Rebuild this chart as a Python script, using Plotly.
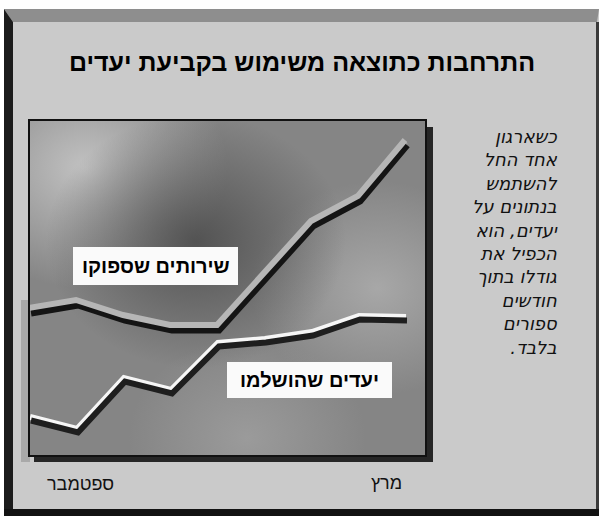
import urllib.parse
import plotly.graph_objects as go

W, H = 599, 516

# ---------------- data ----------------
x_idx = [0, 1, 2, 3, 4, 5, 6, 7, 8]
services = [145, 153, 138, 128, 128, 179, 232, 257, 313]
goals = [38, 26, 77, 65, 112, 116, 123, 139, 138]
title = "התרחבות כתוצאה משימוש בקביעת יעדים"
label_services = "שירותים שספוקו"
label_goals = "יעדים שהושלמו"
tick_labels = ["ספטמבר", "מרץ"]
side_lines = ["כשארגון", "אחד החל", "להשתמש", "בנתונים על", "יעדים, הוא",
              "הכפיל את", "גודלו בתוך", "חודשים", "ספורים", "בלבד.\u200f"]

# ---------------- layout helpers ----------------
def px(x):
    return x / W

def py(y):
    return 1 - y / H

PL, PR, PT, PB = 30, 425, 121, 455      # plot area in pixels
STEP = 47                                 # pixels per x index
XR = [0, (PR - PL) / STEP]
YR = [0, PB - PT]

def xr_shift(d):
    return [XR[0] - d / STEP, XR[1] - d / STEP]

def yr_shift(d):
    return [YR[0] + d, YR[1] + d]

FONT = "Liberation Sans, Arial, DejaVu Sans, sans-serif"
IFONT = "DejaVu Sans, sans-serif"

fig = go.Figure()

# services line: dark bottom edge, light top edge, gray body
fig.add_trace(go.Scatter(x=x_idx, y=services, mode="lines", xaxis="x2", yaxis="y2",
                         line=dict(color="#141414", width=7), hoverinfo="skip"))
fig.add_trace(go.Scatter(x=x_idx, y=services, mode="lines", xaxis="x3", yaxis="y3",
                         line=dict(color="#b6b6b6", width=6), hoverinfo="skip"))
fig.add_trace(go.Scatter(x=x_idx, y=services, mode="lines",
                         line=dict(color="#9a9a9a", width=5), hoverinfo="skip"))
# goals line: dark shadow, white body
fig.add_trace(go.Scatter(x=x_idx, y=goals, mode="lines", xaxis="x2", yaxis="y4",
                         line=dict(color="#1e1e1e", width=6), hoverinfo="skip"))
fig.add_trace(go.Scatter(x=x_idx, y=goals, mode="lines",
                         line=dict(color="#f6f6f6", width=6), hoverinfo="skip"))

# ---------------- background image for plot area ----------------
svg = (
    "<svg xmlns='http://www.w3.org/2000/svg' width='395' height='334' viewBox='0 0 395 334' preserveAspectRatio='none'>"
    "<defs>"
    "<radialGradient id='d' cx='0.42' cy='0.36' r='0.38'><stop offset='0' stop-color='#4a4a4a' stop-opacity='0.85'/><stop offset='1' stop-color='#4a4a4a' stop-opacity='0'/></radialGradient>"
    "<radialGradient id='l' cx='0.14' cy='0.14' r='0.36'><stop offset='0' stop-color='#c8c8c8' stop-opacity='0.9'/><stop offset='1' stop-color='#c8c8c8' stop-opacity='0'/></radialGradient>"
    "<radialGradient id='r' cx='0.88' cy='0.5' r='0.32'><stop offset='0' stop-color='#b0b0b0' stop-opacity='0.8'/><stop offset='1' stop-color='#b0b0b0' stop-opacity='0'/></radialGradient>"
    "<radialGradient id='b' cx='0.55' cy='0.95' r='0.3'><stop offset='0' stop-color='#a4a4a4' stop-opacity='0.7'/><stop offset='1' stop-color='#a4a4a4' stop-opacity='0'/></radialGradient>"
    "</defs>"
    "<rect width='395' height='334' fill='#858585'/>"
    "<rect width='395' height='334' fill='url(#l)'/>"
    "<rect width='395' height='334' fill='url(#r)'/>"
    "<rect width='395' height='334' fill='url(#b)'/>"
    "<rect width='395' height='334' fill='url(#d)'/>"
    "</svg>"
)
src = "data:image/svg+xml;charset=utf-8," + urllib.parse.quote(svg)

images = [dict(source=src, xref="paper", yref="paper", x=px(PL), y=py(PT),
               sizex=px(PR - PL), sizey=(PB - PT) / H, sizing="stretch",
               xanchor="left", yanchor="top", layer="below")]

# ---------------- frame shapes ----------------
def rect(x0, y0, x1, y1, fill, line=None, lw=0, layer="below", opacity=1):
    d = dict(type="rect", xref="paper", yref="paper", x0=px(x0), x1=px(x1),
             y0=py(y1), y1=py(y0), fillcolor=fill, layer=layer, opacity=opacity,
             line=dict(width=lw, color=line or "rgba(0,0,0,0)"))
    return d

def poly(pts, fill):
    path = "M " + " L ".join(f"{px(a):.5f},{py(b):.5f}" for a, b in pts) + " Z"
    return dict(type="path", xref="paper", yref="paper", path=path,
                fillcolor=fill, line=dict(width=0), layer="below")

shapes = [
    rect(0, 0, W, 9, "#ffffff"),
    rect(0, 0, 4, H, "#ffffff"),
    poly([(4, 9), (599, 9), (597, 22), (13, 22)], "#8e8e8e"),
    poly([(4, 9), (13, 22), (13, 509), (4, 516)], "#1b1b1b"),
    rect(4, 509, W, H, "#121212"),
    rect(596, 22, W, 509, "#3a3a3a"),
    # soft shading round plot box
    rect(21, 300, 30, 462, "#a9a9a9"),
    # hard shadow right and bottom of plot box
    rect(PR, 127, 433, 462, "#262626"),
    rect(34, PB, 433, 462, "#262626"),
    # plot border
    rect(29, 120, 426, 456, "rgba(0,0,0,0)", line="#111111", lw=2),
    # label boxes
    rect(73, 247, 238, 285, "#fafafa", layer="above"),
    rect(227, 362, 392, 398, "#fafafa", layer="above"),
]

# ---------------- annotations ----------------
ann = [
    dict(text="<b>" + title + "</b>", x=px(302), y=py(62), xref="paper", yref="paper",
         showarrow=False, xanchor="center", yanchor="middle",
         font=dict(family=FONT, size=25, color="#000000")),
    dict(text="<b>" + label_services + "</b>", x=px(155.5), y=py(266), xref="paper", yref="paper",
         showarrow=False, xanchor="center", yanchor="middle",
         font=dict(family=FONT, size=20, color="#000000")),
    dict(text="<b>" + label_goals + "</b>", x=px(309.5), y=py(380), xref="paper", yref="paper",
         showarrow=False, xanchor="center", yanchor="middle",
         font=dict(family=FONT, size=20, color="#000000")),
    dict(text=tick_labels[0], x=px(80), y=py(484), xref="paper", yref="paper",
         showarrow=False, xanchor="center", yanchor="middle",
         font=dict(family=FONT, size=18, color="#111111")),
    dict(text=tick_labels[1], x=px(386), y=py(483), xref="paper", yref="paper",
         showarrow=False, xanchor="center", yanchor="middle",
         font=dict(family=FONT, size=18, color="#111111")),
    dict(text="<i>" + "<br>".join(side_lines) + "</i>", x=px(560), y=py(242),
         xref="paper", yref="paper", showarrow=False, align="right",
         xanchor="right", yanchor="middle",
         font=dict(family=IFONT, size=18, color="#111111")),
]

hidden = dict(visible=False, showgrid=False, zeroline=False, fixedrange=True)
fig.update_layout(
    width=W, height=H, margin=dict(l=0, r=0, t=0, b=0),
    paper_bgcolor="#cacaca", plot_bgcolor="rgba(0,0,0,0)",
    showlegend=False,
    xaxis=dict(domain=[px(PL), px(PR)], range=XR, **hidden),
    xaxis2=dict(domain=[px(PL), px(PR)], range=xr_shift(1), overlaying="x", **hidden),
    xaxis3=dict(domain=[px(PL), px(PR)], range=xr_shift(-1), overlaying="x", **hidden),
    yaxis=dict(domain=[py(PB), py(PT)], range=YR, **hidden),
    yaxis2=dict(domain=[py(PB), py(PT)], range=yr_shift(3), overlaying="y", **hidden),
    yaxis3=dict(domain=[py(PB), py(PT)], range=yr_shift(-2), overlaying="y", **hidden),
    yaxis4=dict(domain=[py(PB), py(PT)], range=yr_shift(3.5), overlaying="y", **hidden),
    shapes=shapes, images=images, annotations=ann,
)

fig.write_html("out.html")
